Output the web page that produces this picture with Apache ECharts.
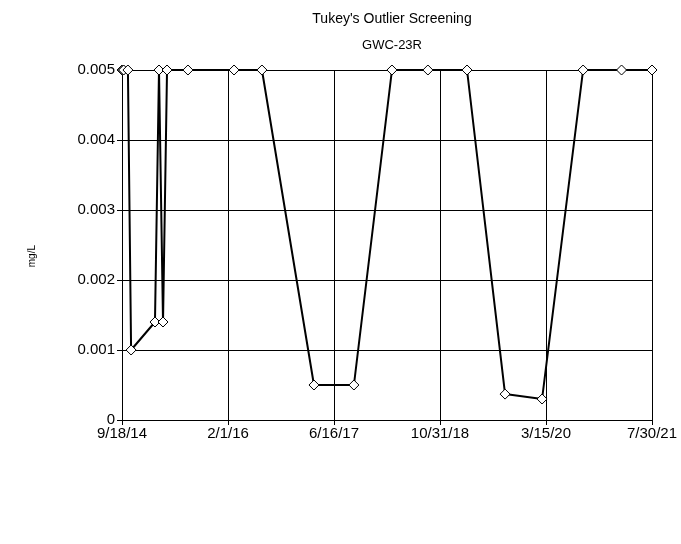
<!DOCTYPE html>
<html><head><meta charset="utf-8">
<script src="https://cdn.jsdelivr.net/npm/echarts@6/dist/echarts.min.js"></script>
<style>html,body{margin:0;padding:0;background:#fff}#c{width:681px;height:544px}</style>
</head><body><div id="c"></div>
<script>
const startDate = '2014-09-18';
const dates = ['2014-09-18','2014-09-21','2014-09-26','2014-10-16','2014-10-31','2015-02-21','2015-03-12','2015-03-31','2015-04-19','2015-07-27','2016-03-01','2016-07-11','2017-03-14','2017-09-19','2018-03-18','2018-09-04','2019-03-08','2019-09-04','2020-02-26','2020-09-07','2021-03-08','2021-07-30'];
const values = [0.005,0.005,0.005,0.005,0.001,0.0014,0.005,0.0014,0.005,0.005,0.005,0.005,0.0005,0.0005,0.005,0.005,0.005,0.00037,0.0003,0.005,0.005,0.005];
const xTickLabels = ['9/18/14','2/1/16','6/16/17','10/31/18','3/15/20','7/30/21'];
const yTickLabels = ['0','0.001','0.002','0.003','0.004','0.005'];
const title = "Tukey's Outlier Screening";
const subtitle = 'GWC-23R';
const yName = 'mg/L';

const DAY = 86400000;
const t0 = Date.parse(startDate);
const dayOf = s => Math.round((Date.parse(s) - t0) / DAY);
const xSpan = dayOf('2021-07-30');
const xInt = xSpan / 5;
const data = dates.map((d, i) => [dayOf(d), values[i]]);
const font = 'Liberation Sans, Arial, sans-serif';

const chart = echarts.init(document.getElementById('c'), null, {renderer: 'canvas'});
chart.setOption({
  animation: false,
  backgroundColor: '#fff',
  title: [
    {text: title, left: 387, top: 7, textAlign: 'center', textStyle: {fontFamily: font, fontSize: 14, fontWeight: 'normal', color: '#000'}},
    {text: subtitle, left: 387, top: 34, textAlign: 'center', textStyle: {fontFamily: font, fontSize: 13, fontWeight: 'normal', color: '#000'}}
  ],
  graphic: [{
    type: 'text', left: 27, top: 245, rotation: Math.PI / 2,
    style: {text: yName, fontFamily: font, fontSize: 10, fill: '#000', textAlign: 'center', textVerticalAlign: 'middle'}
  }],
  grid: {left: 122, right: 29, top: 70, bottom: 124, containLabel: false},
  xAxis: {
    type: 'value', min: 0, max: xSpan, interval: xInt,
    axisLine: {show: true, lineStyle: {color: '#000', width: 1}},
    axisTick: {show: true, length: 5, lineStyle: {color: '#000'}},
    splitLine: {show: true, lineStyle: {color: '#000', width: 1}},
    axisLabel: {
      fontFamily: font, fontSize: 15, color: '#000', margin: 6,
      formatter: v => xTickLabels[Math.round(v / xInt)] || ''
    }
  },
  yAxis: {
    type: 'value', min: 0, max: 0.005, interval: 0.001,
    axisLine: {show: true, lineStyle: {color: '#000', width: 1}},
    axisTick: {show: true, length: 5, lineStyle: {color: '#000'}},
    splitLine: {show: true, lineStyle: {color: '#000', width: 1}},
    axisLabel: {
      fontFamily: font, fontSize: 15, color: '#000', margin: 7,
      formatter: v => yTickLabels[Math.round(v / 0.001)]
    }
  },
  series: [{
    type: 'line', data: data,
    lineStyle: {color: '#000', width: 2},
    symbol: 'path://M0,-1L1,0L0,1L-1,0Z', symbolSize: [10, 10],
    itemStyle: {color: '#fff', borderColor: '#000', borderWidth: 1},
    showAllSymbol: true, clip: false
  }]
});
</script></body></html>
